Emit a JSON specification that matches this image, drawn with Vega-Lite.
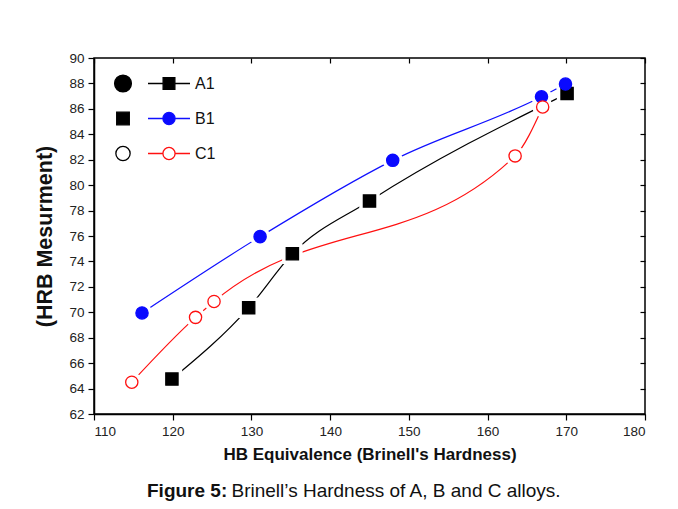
{
  "$schema": "https://vega.github.io/schema/vega-lite/v6.json",
  "width": 551,
  "height": 356,
  "autosize": {"type": "none"},
  "padding": {"left": 94, "top": 58, "right": 33, "bottom": 95},
  "background": "white",
  "config": {
    "font": "Liberation Sans",
    "view": {"stroke": "black", "strokeWidth": 1.5},
    "axis": {
      "grid": false,
      "domainColor": "black",
      "domainWidth": 1.5,
      "tickColor": "black",
      "tickWidth": 1.2,
      "labelColor": "#222222",
      "labelFont": "Liberation Sans",
      "labelFontSize": 13.5,
      "titleFont": "Liberation Sans",
      "titleColor": "#111111",
      "titleFontWeight": "bold"
    }
  },
  "title": {
    "text": "Figure 5:",
    "subtitle": "\u200b\u00a0\u00a0\u00a0\u00a0\u00a0\u00a0\u00a0\u00a0\u00a0\u00a0\u00a0\u00a0\u00a0\u00a0\u00a0\u00a0Brinell’s Hardness of A, B and C alloys.",
    "orient": "bottom",
    "anchor": "start",
    "frame": "group",
    "dx": 53,
    "offset": 19,
    "font": "Liberation Sans",
    "fontSize": 19,
    "fontWeight": "bold",
    "color": "#111111",
    "subtitleFont": "Liberation Sans",
    "subtitleFontSize": 19,
    "subtitleFontWeight": "normal",
    "subtitleColor": "#111111",
    "subtitlePadding": -19
  },
  "data": {
    "values": [
      {"series": "A1", "alloy": "A", "hb": 119.9, "hrb": 64.75},
      {"series": "A1", "alloy": "A", "hb": 129.65, "hrb": 70.35},
      {"series": "A1", "alloy": "A", "hb": 135.2, "hrb": 74.6},
      {"series": "A1", "alloy": "A", "hb": 145.0, "hrb": 78.75},
      {"series": "A1", "alloy": "A", "hb": 170.1, "hrb": 87.2},
      {"series": "B1", "alloy": "B", "hb": 116.1, "hrb": 69.95},
      {"series": "B1", "alloy": "B", "hb": 131.1, "hrb": 75.95},
      {"series": "B1", "alloy": "B", "hb": 147.95, "hrb": 81.95},
      {"series": "B1", "alloy": "B", "hb": 166.85, "hrb": 86.95},
      {"series": "B1", "alloy": "B", "hb": 169.9, "hrb": 87.95},
      {"series": "C1", "alloy": "C", "hb": 114.8, "hrb": 64.5},
      {"series": "C1", "alloy": "C", "hb": 122.9, "hrb": 69.6},
      {"series": "C1", "alloy": "C", "hb": 125.25, "hrb": 70.85},
      {"series": "C1", "alloy": "C", "hb": 163.5, "hrb": 82.3},
      {"series": "C1", "alloy": "C", "hb": 167.0, "hrb": 86.15}
    ]
  },
  "resolve": {
    "scale": {"shape": "independent", "fill": "independent", "stroke": "independent", "color": "independent"},
    "axis": {"x": "independent", "y": "independent"}
  },
  "layer": [
    {
      "mark": {"type": "line", "interpolate": "monotone", "strokeWidth": 1.2},
      "encoding": {
        "x": {"field": "hb", "type": "quantitative", "scale": {"domain": [110, 180], "nice": false, "zero": false},
          "axis": {"orient": "bottom", "values": [110, 120, 130, 140, 150, 160, 170, 180], "tickSize": 6, "labelPadding": 4,
            "title": "HB Equivalence (Brinell's Hardness)", "titleFontSize": 17, "titlePadding": 9}},
        "y": {"field": "hrb", "type": "quantitative", "scale": {"domain": [62, 90], "nice": false, "zero": false},
          "axis": {"orient": "left", "values": [62, 64, 66, 68, 70, 72, 74, 76, 78, 80, 82, 84, 86, 88, 90], "tickSize": 6, "labelPadding": 4,
            "title": "(HRB Mesurment)", "titleFontSize": 21.5, "titlePadding": 12}},
        "color": {"field": "series", "type": "nominal", "scale": {"domain": ["A1", "B1", "C1"], "range": ["#000000", "#1010ff", "#ff1010"]}, "legend": null},
        "detail": {"field": "series"}
      }
    },
    {
      "mark": {"type": "point", "filled": true, "opacity": 1, "size": 420, "color": "white"},
      "encoding": {
        "x": {"field": "hb", "type": "quantitative",
          "axis": {"orient": "top", "values": [110, 120, 130, 140, 150, 160, 170, 180], "labels": false, "tickSize": -5, "title": null, "domain": false}},
        "y": {"field": "hrb", "type": "quantitative",
          "axis": {"orient": "right", "values": [62, 64, 66, 68, 70, 72, 74, 76, 78, 80, 82, 84, 86, 88, 90], "labels": false, "tickSize": -5, "title": null, "domain": false}},
        "shape": {"field": "series", "type": "nominal", "scale": {"domain": ["A1", "B1", "C1"], "range": ["square", "circle", "circle"]}, "legend": null}
      }
    },
    {
      "mark": {"type": "point", "filled": true, "opacity": 1, "size": 150, "strokeWidth": 1.3},
      "encoding": {
        "x": {"field": "hb", "type": "quantitative", "axis": null},
        "y": {"field": "hrb", "type": "quantitative", "axis": null},
        "shape": {"field": "series", "type": "nominal", "scale": {"domain": ["A1", "B1", "C1"], "range": ["square", "circle", "circle"]}, "legend": null},
        "fill": {"field": "series", "type": "nominal", "scale": {"domain": ["A1", "B1", "C1"], "range": ["#000000", "#0a0aff", "#ffffff"]}, "legend": null},
        "stroke": {"field": "series", "type": "nominal", "scale": {"domain": ["A1", "B1", "C1"], "range": ["#000000", "#0a0aff", "#ff1010"]}, "legend": null}
      }
    },
    {
      "transform": [{"filter": "false"}],
      "mark": {"type": "point", "filled": true, "opacity": 1, "size": 1764, "strokeWidth": 1.3},
      "encoding": {
        "x": {"field": "hb", "type": "quantitative", "axis": null},
        "y": {"field": "hrb", "type": "quantitative", "axis": null},
        "shape": {"field": "series", "type": "nominal",
          "scale": {"domain": ["A1", "B1", "C1"], "range": [
            "M-1,0H-0.3M0.3,0H1M-0.28,-0.28H0.28V0.28H-0.28Z",
            "M-1,0H-0.3M0.3,0H1M0.29,0A0.29,0.29,0,1,1,-0.29,0A0.29,0.29,0,1,1,0.29,0Z",
            "M-1,0H-0.3M0.3,0H1M0.29,0A0.29,0.29,0,1,1,-0.29,0A0.29,0.29,0,1,1,0.29,0Z"]},
          "legend": {"orient": "none", "legendX": 53, "legendY": 8, "title": null, "symbolSize": 1764, "symbolStrokeWidth": 1.3, "labelFontSize": 16, "labelFont": "Liberation Sans", "labelColor": "#111111", "rowPadding": 0, "clipHeight": 35, "labelOffset": 4, "padding": 0}},
        "fill": {"field": "series", "type": "nominal", "scale": {"domain": ["A1", "B1", "C1"], "range": ["#000000", "#0a0aff", "#ffffff"]},
          "legend": {"orient": "none", "legendX": 53, "legendY": 8, "title": null, "symbolSize": 1764, "symbolStrokeWidth": 1.3, "labelFontSize": 16, "labelFont": "Liberation Sans", "labelColor": "#111111", "rowPadding": 0, "clipHeight": 35, "labelOffset": 4, "padding": 0}},
        "stroke": {"field": "series", "type": "nominal", "scale": {"domain": ["A1", "B1", "C1"], "range": ["#000000", "#1010ff", "#ff1010"]},
          "legend": {"orient": "none", "legendX": 53, "legendY": 8, "title": null, "symbolSize": 1764, "symbolStrokeWidth": 1.3, "labelFontSize": 16, "labelFont": "Liberation Sans", "labelColor": "#111111", "rowPadding": 0, "clipHeight": 35, "labelOffset": 4, "padding": 0}}
      }
    },
    {
      "transform": [{"filter": "false"}],
      "mark": {"type": "point", "filled": true, "opacity": 1, "size": 1764, "strokeWidth": 1.3},
      "encoding": {
        "x": {"field": "hb", "type": "quantitative", "axis": null},
        "y": {"field": "hrb", "type": "quantitative", "axis": null},
        "shape": {"field": "alloy", "type": "nominal",
          "scale": {"domain": ["A", "B", "C"], "range": [
            "M0.4,0A0.4,0.4,0,1,1,-0.4,0A0.4,0.4,0,1,1,0.4,0Z",
            "M-0.3,-0.3H0.3V0.3H-0.3Z",
            "M0.34,0A0.34,0.34,0,1,1,-0.34,0A0.34,0.34,0,1,1,0.34,0Z"]},
          "legend": {"orient": "none", "legendX": 7, "legendY": 8, "title": null, "symbolSize": 1764, "symbolStrokeWidth": 1.3, "labelExpr": "''", "labelFontSize": 16, "rowPadding": 0, "clipHeight": 35, "padding": 0}},
        "fill": {"field": "alloy", "type": "nominal", "scale": {"domain": ["A", "B", "C"], "range": ["#000000", "#000000", "#ffffff"]},
          "legend": {"orient": "none", "legendX": 7, "legendY": 8, "title": null, "symbolSize": 1764, "symbolStrokeWidth": 1.3, "labelExpr": "''", "labelFontSize": 16, "rowPadding": 0, "clipHeight": 35, "padding": 0}},
        "stroke": {"field": "alloy", "type": "nominal", "scale": {"domain": ["A", "B", "C"], "range": ["#000000", "#000000", "#000000"]},
          "legend": {"orient": "none", "legendX": 7, "legendY": 8, "title": null, "symbolSize": 1764, "symbolStrokeWidth": 1.3, "labelExpr": "''", "labelFontSize": 16, "rowPadding": 0, "clipHeight": 35, "padding": 0}}
      }
    }
  ]
}
